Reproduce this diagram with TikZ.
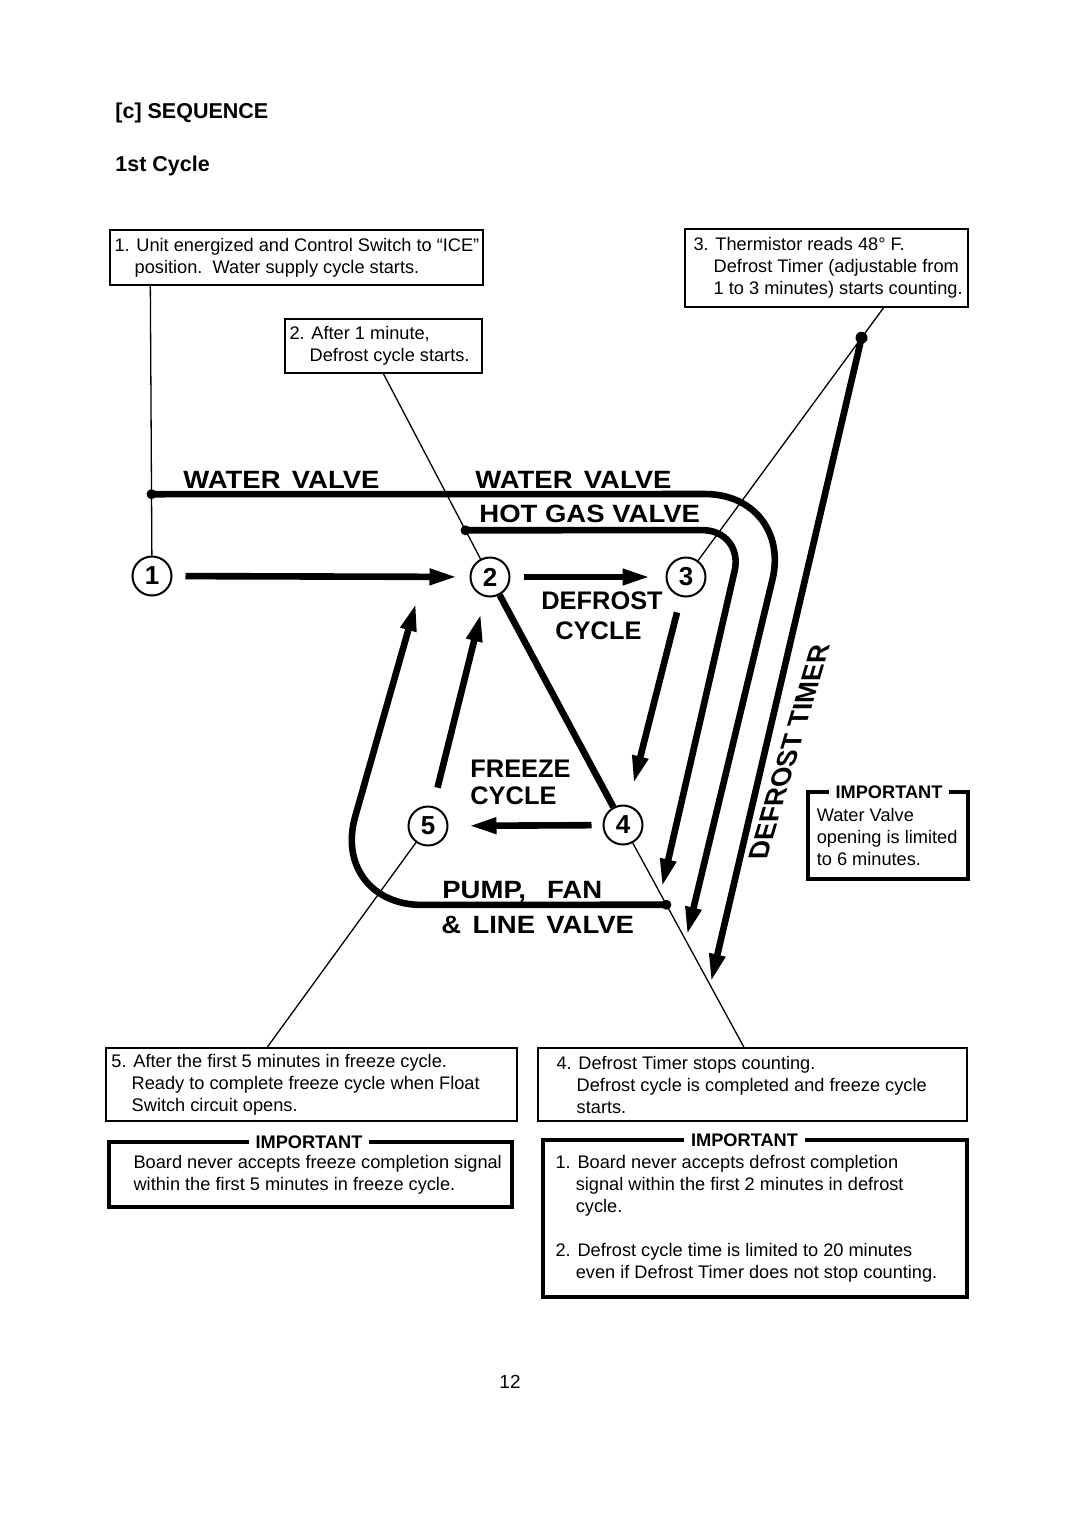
\documentclass[tikz,border=0pt]{standalone}
\usepackage{fontspec}
\setmainfont{Liberation Sans}
\newfontfamily\widefam[FakeStretch=1.1]{Liberation Sans}
\usetikzlibrary{arrows.meta,calc}
\begin{document}
\begin{tikzpicture}[x=0.5pt,y=-0.5pt,
  body/.style={font=\fontsize{9.1}{11}\selectfont, inner sep=0pt, align=left, anchor=west},
  boxthin/.style={draw, line width=0.9pt, inner sep=0pt},
  boximp/.style={draw, line width=1.8pt, inner sep=0pt},
  imptitle/.style={fill=white, inner xsep=3.5pt, inner ysep=1pt, font=\fontsize{9.1}{11}\selectfont\bfseries},
  heavy/.style={line width=3.3pt},
  heavyarrow/.style={line width=3.3pt, -{Triangle[length=14pt,width=7.5pt]}},
  lead/.style={line width=0.65pt},
  stage/.style={circle, draw, line width=1pt, minimum size=19.5pt, inner sep=0pt, font=\fontsize{13}{13}\selectfont\bfseries},
  dotst/.style={circle, fill, inner sep=0pt, minimum size=5pt},
  biglab/.style={font=\widefam\fontsize{12.5}{14}\selectfont\bfseries, inner sep=0pt, anchor=base west},
  midlab/.style={font=\fontsize{12.7}{14}\selectfont\bfseries, inner sep=0pt, anchor=base west},
  headst/.style={font=\fontsize{10.75}{13}\selectfont\bfseries, inner sep=0pt, anchor=base west}
]
\useasboundingbox (0,0) rectangle (1080,1528);

% headings
\node[headst] (h1) at (115,118) {[c] SEQUENCE};
\node[headst] (h2) at (115,171) {1st Cycle};

% text boxes
\node[boxthin, minimum width=186.5pt, minimum height=27.5pt] (b1) at (296.5,257.5) {};
\node[body] (t1) at ($(b1.west)+(5,0)$) {1. Unit energized and Control Switch to “ICE”\\\hphantom{1.\ }position.\ \ Water supply cycle starts.};

\node[boxthin, minimum width=98.5pt, minimum height=27pt] (b2) at (383.5,346) {};
\node[body] (t2) at ($(b2.west)+(5,0)$) {2. After 1 minute,\\\hphantom{2.\ }Defrost cycle starts.};

\node[boxthin, minimum width=141.5pt, minimum height=39pt] (b3) at (826.5,268) {};
\node[body] (t3) at ($(b3.west)+(9,0)$) {3. Thermistor reads 48° F.\\\hphantom{3.\ }Defrost Timer (adjustable from\\\hphantom{3.\ }1 to 3 minutes) starts counting.};

\node[boxthin, minimum width=205.5pt, minimum height=36.5pt] (b5) at (311.5,1084.5) {};
\node[body] (t5) at ($(b5.west)+(6,0)$) {5. After the first 5 minutes in freeze cycle.\\\hphantom{5.\ }Ready to complete freeze cycle when Float\\\hphantom{5.\ }Switch circuit opens.};

\node[boxthin, minimum width=214.5pt, minimum height=36.5pt] (b4) at (752.5,1084.5) {};
\node[body] (t4) at ($(b4.west)+(19,0)$) {4. Defrost Timer stops counting.\\\hphantom{4.\ }Defrost cycle is completed and freeze cycle\\\hphantom{4.\ }starts.};

% important boxes
\node[boximp, minimum width=201.5pt, minimum height=32.5pt] (i1) at (310.5,1174.5) {};
\node[imptitle] (i1t) at (309,1142) {IMPORTANT};
\node[body] (i1x) at ($(i1.west)+(26,0)$) {Board never accepts freeze completion signal\\within the first 5 minutes in freeze cycle.};

\node[boximp, minimum width=212pt, minimum height=78.5pt] (i2) at (755,1218.5) {};
\node[imptitle] (i2t) at (744.5,1140) {IMPORTANT};
\node[body] (i2x) at ($(i2.west)+(14,0)$) {1. Board never accepts defrost completion\\\hphantom{1.\ }signal within the first 2 minutes in defrost\\\hphantom{1.\ }cycle.\\[11pt]2. Defrost cycle time is limited to 20 minutes\\\hphantom{2.\ }even if Defrost Timer does not stop counting.};

\node[draw, line width=1.6pt, inner sep=0pt, minimum width=80pt, minimum height=43.5pt] (i3) at (888,835.5) {};
\node[imptitle] (i3t) at (889,792) {IMPORTANT};
\node[body] (i3x) at ($(i3.west)+(10,1)$) {Water Valve\\opening is limited\\to 6 minutes.};

% stage circles
\node[stage] (c1) at (152,576) {1};
\node[stage] (c2) at (490,577) {2};
\node[stage] (c3) at (686,577) {3};
\node[stage] (c4) at (623,825) {4};
\node[stage] (c5) at (428,826) {5};

% leader attachment points and dots
\coordinate (p1) at ($(b1.south west)!0.11!(b1.south east)$);
\coordinate (p2) at (b2.south);
\coordinate (p3) at ($(b3.south west)!0.70!(b3.south east)$);
\coordinate (p4) at ($(b4.north west)!0.48!(b4.north east)$);
\coordinate (p5) at ($(b5.north west)!0.393!(b5.north east)$);

\node[dotst] (d1) at ($(p1)!0.718!(c1)$) {};
\node[dotst] (d2) at ($(p2)!0.770!(c2)$) {};
\node[dotst, minimum size=6pt] (d3) at ($(p3)!0.111!(c3)$) {};
\node[dotst] (d4) at ($(p4)!0.641!(c4)$) {};

% thin leaders
\draw[lead] (p1) -- (c1);
\draw[lead] (p2) -- (c2);
\draw[lead] (p3) -- (c3);
\draw[lead] (p4) -- (c4);
\draw[lead] (p5) -- (c5);

% cycle arrows
\draw[heavyarrow, shorten <=6.5pt, shorten >=6pt] (c1) -- (c2);
\draw[heavyarrow, shorten <=6.5pt, shorten >=7.5pt] (c2) -- (c3);
\draw[heavyarrow, shorten <=8pt, shorten >=11pt] (c3) -- (c4);
\draw[heavyarrow, shorten <=5.5pt, shorten >=10pt] (c4) -- (c5);
\draw[heavyarrow, shorten <=9.5pt, shorten >=8.5pt] (c5) -- (c2);
\draw[heavy] (c2) -- (c4);

% valve / timer lines
\coordinate (wvc) at (793,494);
\coordinate (wvt) at (687,935);
\coordinate (hgc) at (744,530);
\coordinate (hgt) at (662,887);
\coordinate (pfc) at (330,905);
\coordinate (pft) at (416,603);
\coordinate (dtt) at (711,982);
\draw[heavyarrow, rounded corners=44pt] (d1.center) -- (wvc) -- (wvt);
\draw[heavyarrow, rounded corners=21pt] (d2.center) -- (hgc) -- (hgt);
\draw[heavyarrow, rounded corners=46pt] (d4.center) -- (pfc) -- (pft);
\draw[heavyarrow] (d3.center) -- (dtt);

% labels
\node[biglab] (l1) at (183,488) {WATER\hspace{0.45em}VALVE};
\node[biglab] (l2) at (475,488) {WATER\hspace{0.45em}VALVE};
\node[biglab] (l3) at (479,522) {HOT GAS VALVE};
\node[midlab] (l4) at (541,609) {DEFROST};
\node[midlab] (l5) at (555,639) {CYCLE};
\node[midlab] (l6) at (470,777) {FREEZE};
\node[midlab] (l7) at (470,804) {CYCLE};
\node[biglab] (l8) at (442,898) {PUMP,\hspace{0.85em}FAN};
\node[biglab] (l9) at (441,933) {\&\hspace{0.45em}LINE\hspace{0.45em}VALVE};
\node[font=\fontsize{13.7}{14}\selectfont\bfseries, cm={0.284,0.959,-1,0,(0,0)}, inner sep=0pt] (dt) at (789,752) {DEFROST TIMER};

% page number
\node[font=\fontsize{9.5}{11}\selectfont, inner sep=0pt] (pg) at (510,1382) {12};
\end{tikzpicture}
\end{document}
